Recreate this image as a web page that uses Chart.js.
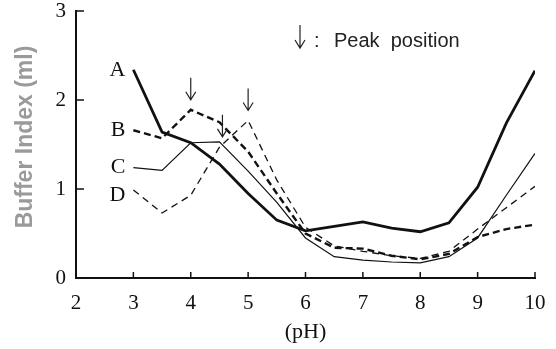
<!DOCTYPE html>
<html>
<head>
<meta charset="utf-8">
<script src="https://cdn.jsdelivr.net/npm/chart.js@4.4.1/dist/chart.umd.min.js"></script>
<style>
  html, body { margin: 0; padding: 0; background: #fff; }
  #wrap { width: 556px; height: 349px; position: relative; }
</style>
</head>
<body>
<div id="wrap"><canvas id="chart"></canvas></div>
<script>
// pH values shared by all four curves
const phValues = [3, 3.5, 4, 4.5, 5, 5.5, 6, 6.5, 7, 7.5, 8, 8.5, 9, 9.5, 10]
const seriesA = [2.34, 1.64, 1.52, 1.28, 0.95, 0.65, 0.53, 0.58, 0.63, 0.56, 0.52, 0.62, 1.02, 1.74, 2.33]
const seriesB = [1.66, 1.57, 1.89, 1.75, 1.42, 0.95, 0.50, 0.34, 0.33, 0.25, 0.21, 0.27, 0.46, 0.55, 0.60]
const seriesC = [1.24, 1.21, 1.52, 1.53, 1.20, 0.85, 0.45, 0.24, 0.20, 0.18, 0.17, 0.24, 0.45, 0.93, 1.40]
const seriesD = [0.99, 0.73, 0.93, 1.47, 1.77, 1.10, 0.57, 0.36, 0.30, 0.25, 0.22, 0.30, 0.55, 0.79, 1.03]
const seriesNames = ['A', 'B', 'C', 'D']
const xTicks = [2, 3, 4, 5, 6, 7, 8, 9, 10]
const yTicks = [0, 1, 2, 3]
// peaks marked with an arrow: [series index, pH]
const peaks = [[1, 4], [2, 4.5], [3, 5]]

const allSeries = [seriesA, seriesB, seriesC, seriesD]
const toPoints = vals => vals.map((v, i) => ({ x: phValues[i], y: v }))

const serif = 'Liberation Serif'

// inward tick marks, curve letters, peak arrows and the note
const decor = {
  id: 'decor',
  afterDraw(chart) {
    const ctx = chart.ctx
    const xs = chart.scales.x, ys = chart.scales.y
    const a = chart.chartArea
    ctx.save()
    ctx.strokeStyle = '#111'
    ctx.lineWidth = 1.5
    xTicks.forEach(v => {
      const px = xs.getPixelForValue(v)
      ctx.beginPath(); ctx.moveTo(px, a.bottom); ctx.lineTo(px, a.bottom - 6); ctx.stroke()
    })
    yTicks.forEach(v => {
      const py = ys.getPixelForValue(v)
      ctx.beginPath(); ctx.moveTo(a.left, py); ctx.lineTo(a.left + 8, py); ctx.stroke()
    })

    // curve letters at the start of each line
    ctx.fillStyle = '#111'
    ctx.font = '22px "' + serif + '"'
    ctx.textAlign = 'right'
    ctx.textBaseline = 'middle'
    const nudge = [0, 0, 0, 5]
    allSeries.forEach((s, i) => {
      ctx.fillText(seriesNames[i], xs.getPixelForValue(phValues[0]) - 8, ys.getPixelForValue(s[0]) + nudge[i])
    })

    // arrows
    const gaps = [10, 5, 10]
    ctx.lineWidth = 1.2
    ctx.strokeStyle = '#222'
    peaks.forEach(([si, ph], k) => {
      const idx = phValues.indexOf(ph)
      const px = xs.getPixelForValue(ph) + (k === 1 ? 3 : 0)
      const tip = ys.getPixelForValue(allSeries[si][idx]) - gaps[k]
      drawArrow(ctx, px, tip, 22)
    })

    // note
    drawArrow(ctx, 300, 48, 23)
    ctx.font = '20px "Liberation Sans"'
    ctx.textAlign = 'left'
    ctx.fillStyle = '#222'
    ctx.fillText(':', 314, 41)
    ctx.fillText('Peak  position', 334, 41)

    // y title, drawn here so it can sit a little above the axis middle
    ctx.translate(26, 137)
    ctx.rotate(-Math.PI / 2)
    ctx.textAlign = 'center'
    ctx.fillStyle = '#9a9a9a'
    ctx.font = 'bold 23px "Liberation Sans"'
    ctx.fillText('Buffer Index (ml)', 0, 0)
    ctx.restore()
  }
}

function drawArrow(ctx, x, tip, len) {
  ctx.beginPath()
  ctx.moveTo(x, tip - len); ctx.lineTo(x, tip)
  ctx.moveTo(x - 5, tip - 8); ctx.lineTo(x, tip); ctx.lineTo(x + 5, tip - 8)
  ctx.stroke()
}

const styles = [
  { borderWidth: 2.8, borderDash: [] },
  { borderWidth: 2.4, borderDash: [7, 4] },
  { borderWidth: 1.2, borderDash: [] },
  { borderWidth: 1.3, borderDash: [7, 5] }
]

new Chart(document.getElementById('chart'), {
  type: 'line',
  data: {
    datasets: allSeries.map((s, i) => ({
      label: seriesNames[i],
      data: toPoints(s),
      borderColor: '#111',
      borderWidth: styles[i].borderWidth,
      borderDash: styles[i].borderDash,
      pointRadius: 0,
      tension: 0,
      fill: false
    }))
  },
  options: {
    responsive: true,
    maintainAspectRatio: false,
    animation: false,
    layout: { padding: { left: 0, right: 21, top: 11, bottom: 0 } },
    plugins: { legend: { display: false }, tooltip: { enabled: false } },
    scales: {
      x: {
        type: 'linear', min: 2, max: 10,
        afterFit(s) { s.height = 71; s.paddingLeft = 0; s.paddingRight = 0 },
        afterBuildTicks(s) { s.ticks = xTicks.map(v => ({ value: v })) },
        grid: { display: false, drawTicks: false },
        border: { display: true, color: '#111', width: 2 },
        ticks: { color: '#111', padding: 15, maxRotation: 0, font: { family: serif, size: 21, lineHeight: 1 } },
        title: { display: true, text: '(pH)', color: '#111', padding: { top: 0, bottom: 4 }, font: { family: serif, size: 22 } }
      },
      y: {
        min: 0, max: 3,
        afterFit(s) { s.width = 76; s.paddingTop = 0; s.paddingBottom = 0 },
        afterBuildTicks(s) { s.ticks = yTicks.map(v => ({ value: v })) },
        grid: { display: false, drawTicks: false },
        border: { display: true, color: '#111', width: 2 },
        ticks: { color: '#111', padding: 10, font: { family: serif, size: 21, lineHeight: 1 } },
        title: { display: false }
      }
    }
  },
  plugins: [decor]
})
</script>
</body>
</html>
